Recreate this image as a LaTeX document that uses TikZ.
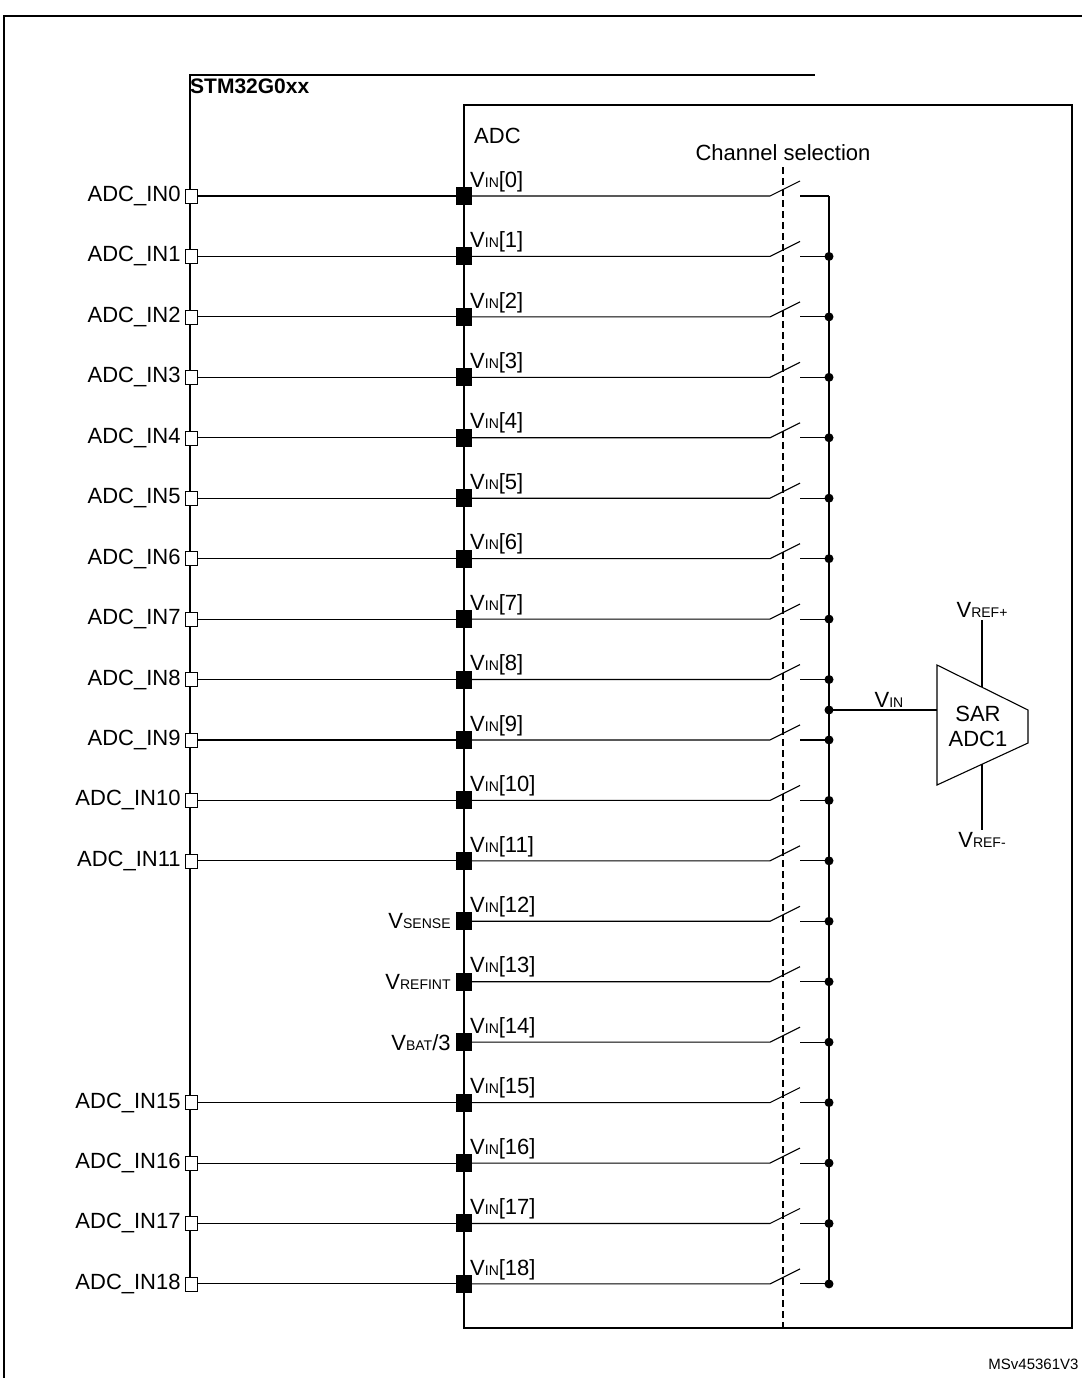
\documentclass[tikz,border=0pt]{standalone}
\usepackage{fontspec}
\setmainfont{Liberation Sans}
\usetikzlibrary{positioning, calc}
\tikzstyle{pin} = [rectangle, draw=black, fill=white, minimum width=12pt, minimum height=14pt, inner sep=0pt]
\tikzstyle{pad} = [rectangle, fill=black, minimum width=16pt, minimum height=18pt, inner sep=0pt]
\tikzstyle{dot} = [circle, fill=black, minimum size=9pt, inner sep=0pt]
\tikzstyle{wire} = [line width=1.1pt]
\tikzstyle{lbl} = [font=\fontsize{22}{25}\selectfont, inner sep=2pt]
\newcommand{\vs}[1]{V{\fontsize{14}{16}\selectfont #1}}
\begin{document}
\begin{tikzpicture}[x=1pt, y=-1pt]
\useasboundingbox (0,0) rectangle (1082,1378);

% Frame
\draw [line width=1.2pt] (4,1378) -- (4,16) -- (1082,16);

% Device outline
\draw [line width=2pt] (190,1290) -- (190,75) -- (815,75);
\node (chip) [lbl, anchor=north west, font=\bfseries\fontsize{21}{24}\selectfont] at (188,77) {STM32G0xx};

% ADC block
\draw [line width=1.1pt] (464,105) rectangle (1072,1328);
\node (adc) [lbl, anchor=west] at (472,136) {ADC};
\node (chsel) [lbl] at (783,153) {Channel selection};
\draw [wire, dashed, dash pattern=on 7pt off 4pt] (783,167) -- (783,1330);

% Bus
\coordinate (bustop) at (829,196);
\coordinate (busbot) at (829,1284);
\draw [wire] (bustop) -- (busbot);

% Channels
\foreach \i in {0,...,18} {
  \pgfmathsetmacro{\y}{196+\i*60.44}
  \node (pad\i) [pad] at (464,\y) {};
  \node (vin\i) [lbl, anchor=south west] at (468,\y-2) {\vs{IN}[\i]};
  \coordinate (swa\i) at (770,\y);
  \coordinate (swb\i) at (800,\y-15);
  \coordinate (swc\i) at (800,\y);
  \coordinate (bus\i) at (829,\y);
  \draw [wire] (pad\i.east) -- (swa\i) -- (swb\i);
  \draw [wire] (swc\i) -- (bus\i);
}
\foreach \i in {1,...,18} {
  \node (dot\i) [dot] at (bus\i) {};
}

% External pins
\foreach \i in {0,...,11,15,16,17,18} {
  \pgfmathsetmacro{\y}{196+\i*60.44}
  \node (pin\i) [pin] at (191,\y) {};
  \node [lbl, left=2pt of pin\i] {ADC\_IN\i};
  \draw [wire] (pin\i) -- (pad\i);
}

% Internal sources
\node [lbl, left=3pt of pad12] {\vs{SENSE}};
\node [lbl, left=3pt of pad13] {\vs{REFINT}};
\node [lbl, left=3pt of pad14] {\vs{BAT}/3};

% SAR ADC
\coordinate (vintap) at (829,710);
\node (vtap) [dot] at (vintap) {};
\draw [wire] (937,665) -- (1028,710) -- (1028,743) -- (937,785) -- cycle;
\node (sar) [lbl, align=center, font=\fontsize{22}{25}\selectfont] at (978,726) {SAR\\ADC1};
\coordinate (sarin) at (937,710);
\draw [wire] (vintap) -- node[lbl, above, xshift=6pt] {\vs{IN}} (sarin);
\node (vrefp) [lbl, anchor=south] at (982,620) {\vs{REF+}};
\node (vrefm) [lbl, anchor=north] at (982,830) {\vs{REF-}};
\draw [wire] (982,620) -- (982,687);
\draw [wire] (982,764) -- (982,830);

\node (ref) [anchor=east, font=\fontsize{15}{17}\selectfont] at (1082,1364) {MSv45361V3};

\end{tikzpicture}
\end{document}
